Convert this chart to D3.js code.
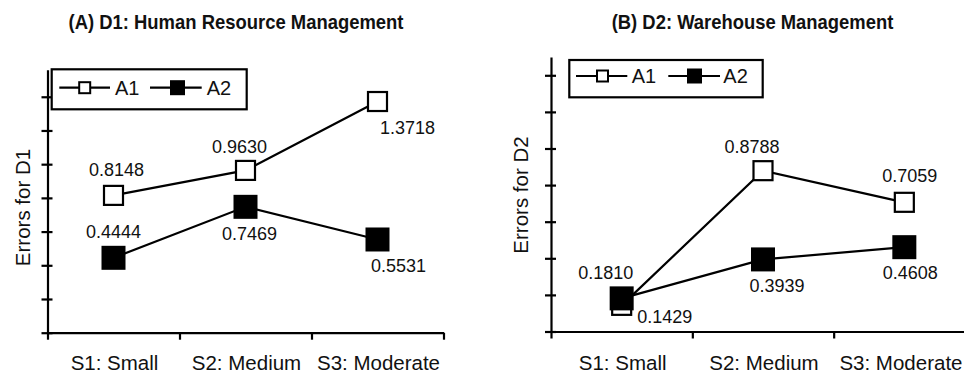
<!DOCTYPE html>
<html><head><meta charset="utf-8">
<script src="https://cdn.jsdelivr.net/npm/d3@7"></script>
<style>body{margin:0;background:#fff} svg{display:block}</style>
</head><body>
<svg id="c" width="964" height="373"></svg>
<script>
// ---- data ----
const categories = ["S1: Small", "S2: Medium", "S3: Moderate"];
const seriesNames = ["A1", "A2"];
const d1A1 = [0.8148, 0.9630, 1.3718];
const d1A2 = [0.4444, 0.7469, 0.5531];
const d2A1 = [0.1429, 0.8788, 0.7059];
const d2A2 = [0.1810, 0.3939, 0.4608];
const yTickValues = [0, 0.2, 0.4, 0.6, 0.8, 1.0, 1.2, 1.4];
const titles = ["(A) D1: Human Resource Management", "(B) D2: Warehouse Management"];
const yTitles = ["Errors for D1", "Errors for D2"];

// ---- layout (not data) ----
const panels = [
  { a1: d1A1, a2: d1A2, title: titles[0], yTitle: yTitles[0],
    xRange: [47.5, 443.5], yRange: [332.7, 69.8], yMax: 1.56,
    titleX: 236, titleW: 335, yTitleX: 30, yTitleY: 207.5,
    legend: { box: [51.7, 69.3, 195, 40], rowY: 87.7, l1: [59.3, 110], m1: 84.7, t1: 115, l2: [150, 201.7], m2: 177.5, t2: 206.7, ty: 95 },
    off1: [[3, -19], [-6, -17], [30, 32]],
    off2: [[0, -20], [4, 33], [21, 33]] },
  { a1: d2A1, a2: d2A2, title: titles[1], yTitle: yTitles[1],
    xRange: [551, 975], yRange: [331.5, 56.99], yMax: 1.5,
    titleX: 752.5, titleW: 281.6, yTitleX: 527.5, yTitleY: 195,
    legend: { box: [569.3, 60, 193.4, 37.3], rowY: 76, l1: [576, 627.3], m1: 602.5, t1: 631.7, l2: [668.3, 720], m2: 694.5, t2: 723.3, ty: 83.3 },
    off1: [[43, 17.4], [-11, -18], [5.5, -20.6]],
    off2: [[-16, -19], [14, 33], [6, 32]] }
];

const W = 964;
const svg = d3.select("#c");
const FONT = "'Liberation Sans', Arial, sans-serif";
const fmt = d3.format(".4f");

panels.forEach(p => {
  const g = svg.append("g");
  const x = d3.scaleLinear().domain([0, categories.length]).range(p.xRange);
  const y = d3.scaleLinear().domain([0, p.yMax]).range(p.yRange);
  const cx = i => x(i + 0.5);

  // title (condensed bold look)
  g.append("text").attr("x", p.titleX - p.titleW / 2).attr("y", 29)
    .attr("textLength", p.titleW).attr("lengthAdjust", "spacingAndGlyphs")
    .style("font-family", FONT)
    .style("font-weight", "bold").style("font-size", "20.5px").style("fill", "#111")
    .text(p.title);

  // y axis
  const yAxis = d3.axisLeft(y).tickValues(yTickValues).tickFormat("").tickSizeOuter(0).tickSizeInner(6);
  const ya = g.append("g").attr("transform", `translate(${p.xRange[0]},0)`).call(yAxis);
  ya.select(".domain").attr("stroke", "#000").attr("stroke-width", 2.2);
  ya.selectAll(".tick line").attr("x1", 5).attr("stroke", "#000").attr("stroke-width", 2.2);

  // x axis
  const xAxis = d3.axisBottom(x).tickValues(d3.range(categories.length + 1)).tickFormat("").tickSizeOuter(0).tickSizeInner(7);
  const xa = g.append("g").attr("transform", `translate(0,${y(0)})`).call(xAxis);
  xa.select(".domain").attr("stroke", "#000").attr("stroke-width", 2.2);
  xa.selectAll(".tick line").attr("stroke", "#000").attr("stroke-width", 2.2);

  // category labels (kept inside the window)
  g.selectAll(".cat").data(categories).enter().append("text")
    .attr("x", (d, i) => cx(i) + 1).attr("y", 370)
    .attr("text-anchor", "middle")
    .style("font-family", FONT).style("font-size", "20.5px").style("fill", "#111")
    .text(d => d)
    .each(function () {
      const b = this.getBBox();
      const over = b.x + b.width - (W - 1.5);
      if (over > 0) d3.select(this).attr("x", +d3.select(this).attr("x") - over);
    });

  // y title
  g.append("text")
    .attr("transform", `translate(${p.yTitleX},${p.yTitleY}) rotate(-90)`)
    .attr("text-anchor", "middle")
    .style("font-family", FONT).style("font-size", "20.5px").style("fill", "#111")
    .text(p.yTitle);

  // lines
  const line = d3.line().x((d, i) => cx(i)).y(d => y(d));
  [p.a1, p.a2].forEach(s => {
    g.append("path").attr("d", line(s)).attr("fill", "none")
      .attr("stroke", "#000").attr("stroke-width", 2.2);
  });

  // markers A1 (hollow)
  g.selectAll(".m1").data(p.a1).enter().append("rect")
    .attr("x", (d, i) => cx(i) - 9.5).attr("y", d => y(d) - 9.5)
    .attr("width", 19).attr("height", 19)
    .attr("fill", "#fff").attr("stroke", "#000").attr("stroke-width", 2.2);
  // markers A2 (filled)
  g.selectAll(".m2").data(p.a2).enter().append("rect")
    .attr("x", (d, i) => cx(i) - 12).attr("y", d => y(d) - 12)
    .attr("width", 24).attr("height", 24)
    .attr("fill", "#000");

  // value labels
  [[p.a1, p.off1], [p.a2, p.off2]].forEach(([s, off]) => {
    g.selectAll(null).data(s).enter().append("text")
      .attr("x", (d, i) => cx(i) + off[i][0]).attr("y", (d, i) => y(d) + off[i][1])
      .attr("text-anchor", "middle")
      .style("font-family", FONT).style("font-size", "18px").style("fill", "#111")
      .text(d => fmt(d));
  });

  // legend
  const L = p.legend;
  g.append("rect").attr("x", L.box[0]).attr("y", L.box[1]).attr("width", L.box[2]).attr("height", L.box[3])
    .attr("fill", "#fff").attr("stroke", "#000").attr("stroke-width", 2.2);
  const items = [
    { name: seriesNames[0], l: L.l1, m: L.m1, t: L.t1, filled: false },
    { name: seriesNames[1], l: L.l2, m: L.m2, t: L.t2, filled: true }
  ];
  items.forEach(it => {
    g.append("line").attr("x1", it.l[0]).attr("x2", it.l[1]).attr("y1", L.rowY).attr("y2", L.rowY)
      .attr("stroke", "#000").attr("stroke-width", 2.2);
    if (it.filled) {
      g.append("rect").attr("x", it.m - 7.5).attr("y", L.rowY - 7.5).attr("width", 15).attr("height", 15).attr("fill", "#000");
    } else {
      g.append("rect").attr("x", it.m - 5.5).attr("y", L.rowY - 5.5).attr("width", 11).attr("height", 11)
        .attr("fill", "#fff").attr("stroke", "#000").attr("stroke-width", 2);
    }
    g.append("text").attr("x", it.t).attr("y", L.ty)
      .style("font-family", FONT).style("font-size", "20px").style("fill", "#111")
      .text(it.name);
  });
});
</script>
</body></html>
